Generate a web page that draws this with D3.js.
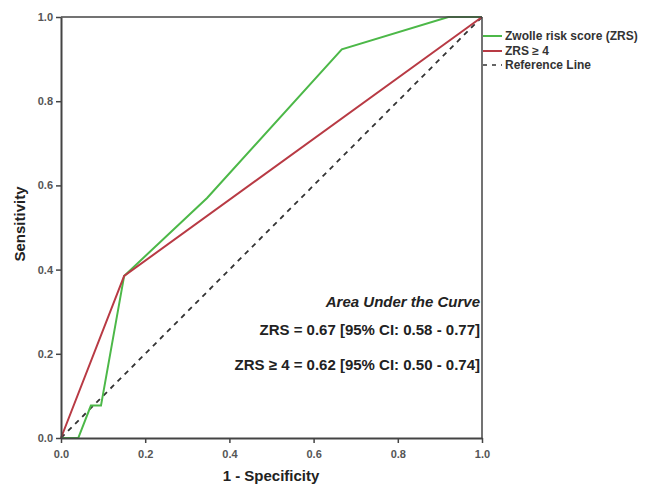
<!DOCTYPE html>
<html><head><meta charset="utf-8">
<script src="https://cdn.jsdelivr.net/npm/d3@7"></script>
<style>body{margin:0;background:#fff;}svg{display:block;font-family:"Liberation Sans",Arial,sans-serif;}</style>
</head><body>
<script>
const zrsFpr  = [0, 0.041, 0.071, 0.095, 0.15, 0.347, 0.667, 0.92, 1.0];
const zrsTpr  = [0, 0,     0.077, 0.077, 0.385, 0.57, 0.923, 1.0, 1.0];
const zrs4Fpr = [0, 0.15, 1.0];
const zrs4Tpr = [0, 0.385, 1.0];
const refFpr  = [0, 1];
const refTpr  = [0, 1];
const tickVals = [0, 0.2, 0.4, 0.6, 0.8, 1.0];
const legendLabels = ["Zwolle risk score (ZRS)", "ZRS \u2265 4", "Reference Line"];
const aucLines = ["Area Under the Curve", "ZRS = 0.67 [95% CI: 0.58 - 0.77]", "ZRS \u2265 4 = 0.62 [95% CI: 0.50 - 0.74]"];

const W = 657, H = 499;
const L = 61, R = 482, T = 17, B = 438;
const svg = d3.select("body").append("svg").attr("width", W).attr("height", H);
const x = d3.scaleLinear().domain([0, 1]).range([L, R]);
const y = d3.scaleLinear().domain([0, 1]).range([B, T]);

const axisColor = "#444";

const line = d3.line().x(d => x(d[0])).y(d => y(d[1]));
svg.append("path").datum(d3.zip(refFpr, refTpr)).attr("d", line)
  .attr("fill", "none").attr("stroke", "#333").attr("stroke-width", 1.8).attr("stroke-dasharray", "5,5");
svg.append("path").datum(d3.zip(zrsFpr, zrsTpr)).attr("d", line)
  .attr("fill", "none").attr("stroke", "#4cb848").attr("stroke-width", 2);
svg.append("path").datum(d3.zip(zrs4Fpr, zrs4Tpr)).attr("d", line)
  .attr("fill", "none").attr("stroke", "#b83a44").attr("stroke-width", 2);

// frame
svg.append("line").attr("x1", L).attr("x2", R).attr("y1", T).attr("y2", T).attr("stroke", axisColor).attr("stroke-width", 1.5);
svg.append("line").attr("x1", R).attr("x2", R).attr("y1", T).attr("y2", B).attr("stroke", axisColor).attr("stroke-width", 1.5);

const xAxis = svg.append("g").attr("transform", `translate(0,${B})`)
  .call(d3.axisBottom(x).tickValues(tickVals).tickFormat(d3.format(".1f")).tickSize(5).tickSizeOuter(0));
const yAxis = svg.append("g").attr("transform", `translate(${L},0)`)
  .call(d3.axisLeft(y).tickValues(tickVals).tickFormat(d3.format(".1f")).tickSize(5).tickSizeOuter(0));
[xAxis, yAxis].forEach(a => {
  a.select(".domain").attr("stroke", axisColor).attr("stroke-width", 2);
  a.selectAll(".tick line").attr("stroke", axisColor).attr("stroke-width", 1.5);
  a.selectAll("text").attr("fill", "#555").attr("font-size", 11).attr("font-weight", "bold")
   .attr("font-family", "'Liberation Sans', Arial, sans-serif");
});
xAxis.selectAll("text").attr("dy", "1.05em");

// legend
const legColors = ["#4cb848", "#b83a44", "#333"];
const legY = [36, 51, 65];
legendLabels.forEach((lab, i) => {
  svg.append("line").attr("x1", 483).attr("x2", 502).attr("y1", legY[i]).attr("y2", legY[i])
    .attr("stroke", legColors[i]).attr("stroke-width", i === 2 ? 1.5 : 2)
    .attr("stroke-dasharray", i === 2 ? "4,5" : null);
  svg.append("text").attr("x", 505).attr("y", legY[i]).attr("dy", "0.35em")
    .attr("font-size", 12).attr("font-weight", "bold").attr("fill", "#333").text(lab);
});

// axis titles
svg.append("text").attr("x", 271).attr("y", 481).attr("text-anchor", "middle")
  .attr("font-size", 15).attr("font-weight", "bold").attr("fill", "#222").text("1 - Specificity");
svg.append("text").attr("transform", `translate(25,224) rotate(-90)`).attr("text-anchor", "middle")
  .attr("font-size", 15).attr("font-weight", "bold").attr("fill", "#222").text("Sensitivity");

// AUC annotation
const aucY = [307, 335, 370];
aucLines.forEach((t, i) => {
  svg.append("text").attr("x", 480).attr("y", aucY[i]).attr("text-anchor", "end")
    .attr("font-size", 15).attr("font-weight", "bold").attr("font-style", i === 0 ? "italic" : "normal")
    .attr("fill", "#222").text(t);
});
</script>
</body></html>
